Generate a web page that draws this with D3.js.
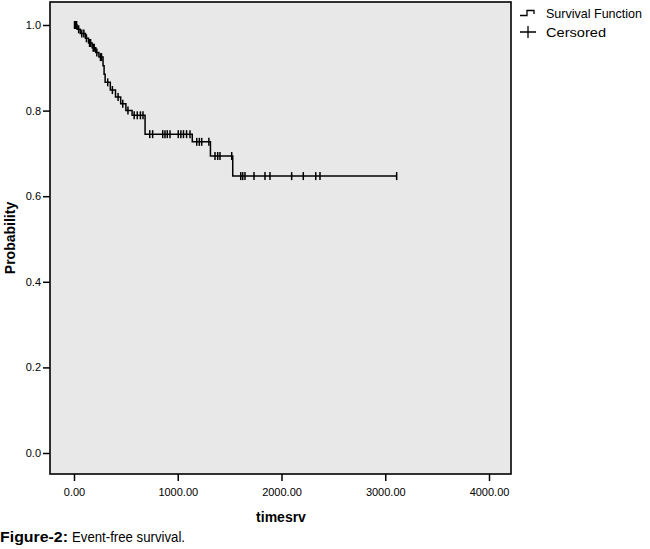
<!DOCTYPE html>
<html>
<head>
<meta charset="UTF-8">
<script src="https://d3js.org/d3.v7.min.js"></script>
<style>
  body { margin: 0; background: #fff; }
  svg text { fill: #000; }
  .tick text { font-family: "Liberation Sans", Arial, sans-serif; font-size: 11px; }
  .narrow { font-family: "Liberation Sans Narrow", "Arial Narrow", "Liberation Sans", sans-serif; }
</style>
</head>
<body>
<svg id="km" width="650" height="549"></svg>
<script>
// event times (days) and survival after each drop
const eventTimes = [0, 30, 60, 110, 140, 175, 210, 240, 280, 290, 300, 350, 400, 450, 500, 560, 685, 1140, 1315, 1530];
const survival   = [1.0, 0.990, 0.980, 0.969, 0.958, 0.947, 0.936, 0.925, 0.905, 0.885, 0.866, 0.848, 0.832, 0.816, 0.800, 0.789, 0.745, 0.727, 0.694, 0.647];
// censored observations
const censorTimes = [5, 12, 18, 25, 45, 75, 95, 120, 150, 160, 185, 195, 220, 255, 265, 325, 370, 425, 470, 520, 580, 610, 640, 665,
                     730, 758, 855, 877, 899, 925, 1005, 1030, 1055, 1085, 1118,
                     1183, 1208, 1231, 1300,
                     1359, 1385, 1407, 1520,
                     1607, 1626, 1648, 1735, 1841, 1889, 2098, 2210, 2330, 2371, 3110];
const xTicks = [0, 1000, 2000, 3000, 4000];
const yTicks = [0, 0.2, 0.4, 0.6, 0.8, 1.0];
const legendLabels = ["Survival Function", "Cersored"];
const legendWidths = [96, 60];

const svg = d3.select('#km');
const frame = {left: 50, top: 2, right: 511, bottom: 474};

const x = d3.scaleLinear().domain([0, 4000]).range([74, 489]);
const y = d3.scaleLinear().domain([0, 1]).range([453, 25]);

// plot background + border
svg.append('rect')
   .attr('x', frame.left).attr('y', frame.top)
   .attr('width', frame.right - frame.left).attr('height', frame.bottom - frame.top)
   .attr('fill', '#e8e8e8').attr('stroke', '#000').attr('stroke-width', 1.6);

// axes
const xAxis = d3.axisBottom(x).tickValues(xTicks).tickSize(7).tickPadding(7).tickFormat(d3.format('.2f'));
const gx = svg.append('g').attr('transform', 'translate(0,' + frame.bottom + ')').call(xAxis);
gx.select('.domain').remove();
gx.selectAll('line').attr('stroke-width', 1.5);

const yAxis = d3.axisLeft(y).tickValues(yTicks).tickSize(7).tickPadding(2).tickFormat(d3.format('.1f'));
const gy = svg.append('g').attr('transform', 'translate(' + frame.left + ',0)').call(yAxis);
gy.select('.domain').remove();
gy.selectAll('line').attr('stroke-width', 1.5);

// axis titles
svg.append('text').attr('x', 281).attr('y', 522).attr('text-anchor', 'middle')
   .style('font-family', '"Liberation Sans", Arial, sans-serif').style('font-weight', 'bold').style('font-size', '14px')
   .text('timesrv');
svg.append('text').attr('transform', 'translate(15,238) rotate(-90)').attr('text-anchor', 'middle')
   .style('font-family', '"Liberation Sans", Arial, sans-serif').style('font-weight', 'bold').style('font-size', '14px')
   .text('Probability');

// survival step curve
const pts = eventTimes.map((t, i) => [t, survival[i]]);
pts.push([d3.max(censorTimes), survival[survival.length - 1]]);
const line = d3.line().x(d => x(d[0])).y(d => y(d[1])).curve(d3.curveStepAfter);
svg.append('path').datum(pts)
   .attr('d', line).attr('fill', 'none').attr('stroke', '#000').attr('stroke-width', 1.5);

// survival value at a time
const bis = d3.bisector(d => d).right;
const survAt = t => survival[bis(eventTimes, t) - 1];

svg.selectAll('line.cens').data(censorTimes).join('line')
   .attr('class', 'cens')
   .attr('x1', d => x(d)).attr('x2', d => x(d))
   .attr('y1', d => y(survAt(d)) - 4).attr('y2', d => y(survAt(d)) + 4)
   .attr('stroke', '#000').attr('stroke-width', 1.5);

// legend
const lg = svg.append('g');
lg.append('path').attr('d', 'M520,15.5 H527 V10.5 H534 V14')
  .attr('fill', 'none').attr('stroke', '#000').attr('stroke-width', 1.3);
lg.append('path').attr('d', 'M520,32 H536 M528,26 V38')
  .attr('fill', 'none').attr('stroke', '#000').attr('stroke-width', 1.3);
lg.selectAll('text').data(legendLabels).join('text')
  .attr('class', 'narrow')
  .attr('x', 546).attr('y', (d, i) => 18 + i * 19)
  .attr('textLength', (d, i) => legendWidths[i])
  .attr('lengthAdjust', 'spacingAndGlyphs')
  .style('font-size', '13px')
  .text(d => d);

// caption
const cap = svg.append('text').attr('class', 'narrow').attr('y', 542).style('font-size', '15px');
cap.append('tspan').attr('x', 0).style('font-weight', 'bold')
   .attr('textLength', 68).attr('lengthAdjust', 'spacingAndGlyphs').text('Figure-2:');
cap.append('tspan').attr('x', 72)
   .attr('textLength', 113).attr('lengthAdjust', 'spacingAndGlyphs').text('Event-free survival.');
</script>
</body>
</html>
